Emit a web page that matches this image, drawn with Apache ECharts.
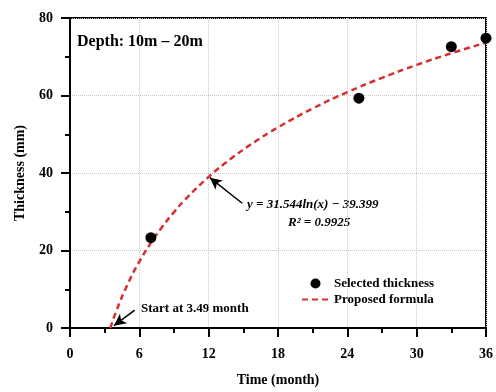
<!DOCTYPE html>
<html>
<head>
<meta charset="utf-8">
<script src="https://cdn.jsdelivr.net/npm/echarts@6/dist/echarts.min.js"></script>
<style>
  html, body { margin: 0; padding: 0; background: #fff; }
  #main { width: 496px; height: 392px; }
</style>
</head>
<body>
<div id="main"></div>
<script>
// measured points (month, mm)
const selectedMonth = [7, 25, 33, 36];
const selectedThickness = [23.3, 59.3, 72.6, 74.8];
// proposed formula y = 31.544ln(x) - 39.399
const formulaMonth = [3.49, 4, 5, 6, 7, 8, 9, 10, 12, 14, 16, 18, 21, 24, 27, 30, 33, 36];
const formulaThickness = [0, 4.33, 11.37, 17.12, 21.98, 26.2, 29.91, 33.23, 38.99, 43.85, 48.06, 51.78, 56.64, 60.85, 64.56, 67.89, 70.9, 73.64];
const xTicks = [0, 6, 12, 18, 24, 30, 36];
const yTicks = [0, 20, 40, 60, 80];

const serif = "'Liberation Serif', 'DejaVu Serif', serif";

//组合数据
const toPairs = (xs, ys) => xs.map((x, i) => [x, ys[i]]);

const chart = echarts.init(document.getElementById("main"));
chart.setOption({
  animation: false,
  grid: {
    left: 70,
    right: 8,
    top: 18,
    bottom: 61,
    show: true,
    borderColor: "#000",
    borderWidth: 2,
  },
  legend: {
    orient: "vertical",
    left: 296,
    top: 272,
    itemWidth: 27,
    itemHeight: 10,
    itemGap: 3,
    textStyle: { fontFamily: serif, fontWeight: "bold", fontSize: 13, color: "#000" },
    data: [
      "Selected thickness",
      { name: "Proposed formula", itemStyle: { color: "rgba(0,0,0,0)", borderWidth: 0 } },
    ],
  },
  xAxis: {
    type: "value",
    min: 0,
    max: 36,
    interval: 6,
    name: "Time (month)",
    nameLocation: "middle",
    nameGap: 45,
    nameTextStyle: { fontFamily: serif, fontWeight: "bold", fontSize: 14, color: "#000" },
    axisLine: { lineStyle: { color: "#000", width: 2 } },
    axisTick: { length: 9, lineStyle: { color: "#000", width: 2 } },
    minorTick: { show: true, splitNumber: 2, length: 5, lineStyle: { color: "#000", width: 2 } },
    axisLabel: {
      margin: 19,
      fontFamily: serif,
      fontWeight: "bold",
      fontSize: 14,
      color: "#000",
      formatter: (v) => (xTicks.includes(v) ? String(v) : ""),
    },
    splitLine: { show: true, lineStyle: { color: "#c8c8c8", type: "dotted", width: 1 } },
  },
  yAxis: {
    type: "value",
    min: 0,
    max: 80,
    interval: 20,
    name: "Thickness (mm)",
    nameLocation: "middle",
    nameGap: 43,
    nameTextStyle: { fontFamily: serif, fontWeight: "bold", fontSize: 14, color: "#000" },
    axisLine: { show: true, lineStyle: { color: "#000", width: 2 } },
    axisTick: { show: true, length: 9, lineStyle: { color: "#000", width: 2 } },
    minorTick: { show: true, splitNumber: 2, length: 5, lineStyle: { color: "#000", width: 2 } },
    axisLabel: {
      margin: 17,
      fontFamily: serif,
      fontWeight: "bold",
      fontSize: 14,
      color: "#000",
      formatter: (v) => (yTicks.includes(v) ? String(v) : ""),
    },
    splitLine: { show: true, lineStyle: { color: "#c8c8c8", type: "dotted", width: 1 } },
  },
  series: [
    {
      name: "Proposed formula",
      type: "line",
      smooth: true,
      symbol: "none",
      data: toPairs(formulaMonth, formulaThickness),
      lineStyle: { color: "#d62f2f", width: 2.5, type: [6, 4] },
      itemStyle: { color: "#d62f2f" },
      z: 2,
      markLine: {
        silent: true,
        symbol: ["none", "arrow"],
        symbolSize: [9, 12],
        label: { show: false },
        lineStyle: { color: "#000", width: 1.5, type: "solid" },
        data: [
          [{ coord: [14.9, 32.2] }, { coord: [12.1, 38.8] }],
          [{ coord: [5.6, 4.6] }, { coord: [3.8, 0.6] }],
        ],
      },
    },
    {
      name: "Selected thickness",
      type: "scatter",
      symbolSize: 11,
      data: toPairs(selectedMonth, selectedThickness),
      itemStyle: { color: "#000", opacity: 1 },
      z: 3,
    },
  ],
  graphic: [
    {
      type: "text",
      left: 77,
      top: 34,
      style: { text: "Depth: 10m \u2013 20m", font: "bold 16px " + serif, fill: "#000" },
    },
    {
      type: "text",
      left: 247,
      top: 198,
      style: {
        text: "y = 31.544ln(x) \u2212 39.399",
        font: "bold italic 13px " + serif,
        fill: "#000",
      },
    },
    {
      type: "text",
      left: 288,
      top: 216,
      style: {
        text: "R\u00b2 = 0.9925",
        font: "bold italic 13px " + serif,
        fill: "#000",
      },
    },
    {
      type: "text",
      left: 141,
      top: 302,
      style: { text: "Start at 3.49 month", font: "bold 13px " + serif, fill: "#000" },
    },
  ],
});
</script>
</body>
</html>
